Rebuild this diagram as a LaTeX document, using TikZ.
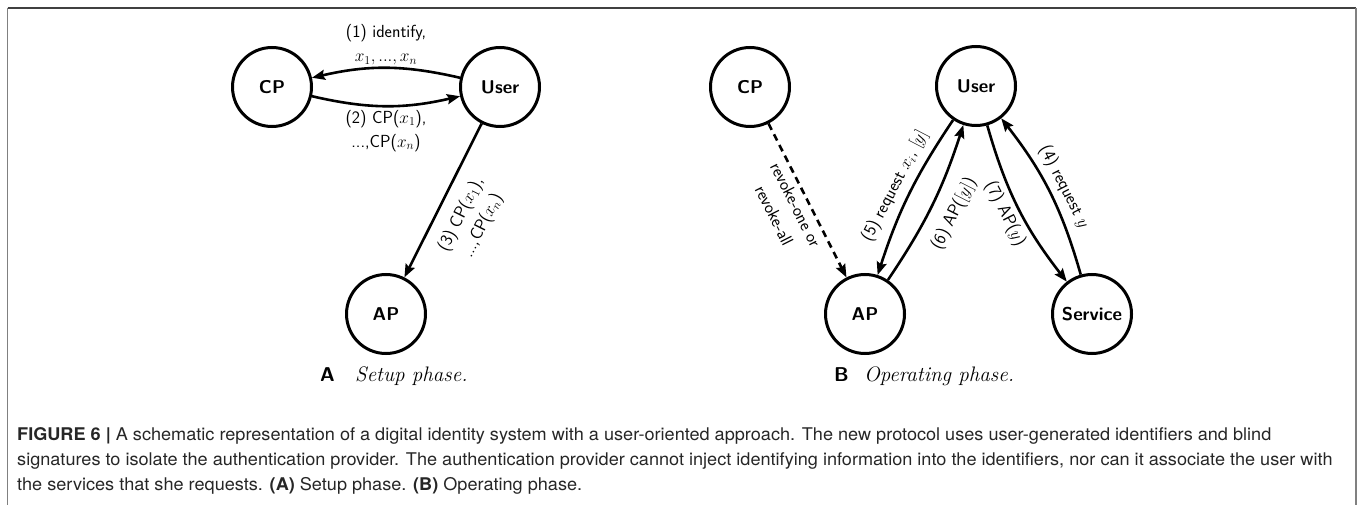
\documentclass[tikz,border=0pt]{standalone}
\usepackage{fontspec}
\usetikzlibrary{arrows.meta}
\newfontfamily\capfont[FakeStretch=1.035]{TeX Gyre Heros}

\begin{document}
\begin{tikzpicture}[x=1pt,y=1pt,
  party/.style={circle, draw, line width=3pt, minimum size=79pt, inner sep=0pt,
    font=\fontsize{18.5}{22}\selectfont\sffamily\bfseries},
  msg/.style={line width=2.6pt, -{Stealth[length=13pt,width=10pt,inset=2pt]}},
  revoke/.style={msg, dash pattern=on 7pt off 5pt},
  lbl/.style={font=\fontsize{17.5}{24}\selectfont\sffamily, align=center, inner sep=0pt},
  panel/.style={font=\fontsize{20}{24}\selectfont\sffamily\bfseries, inner sep=0pt, anchor=base west},
  phase/.style={font=\fontsize{21}{24}\selectfont\itshape, inner sep=0pt, anchor=base west},
  capline/.style={font=\fontsize{17.5}{25}\selectfont\capfont, text=black!85, inner sep=0pt, anchor=base west},
  frameline/.style={line width=1.5pt}]

\useasboundingbox (0,0) rectangle (1357,-505);

% figure frame
\draw[frameline, black!75] (7.5,-8) -- (1356,-8);
\draw[frameline, black!50] (7.5,-8) -- (7.5,-505);
\draw[frameline, black!50] (1356,-8) -- (1356,-505);

% ---- (A) setup phase ----
\node[party] (cpA)   at (272,-87)  {CP};
\node[party] (userA) at (500,-87)  {User};
\node[party] (apA)   at (386,-314) {AP};

\draw[msg] (userA) to[bend right=13] (cpA);
\draw[msg] (cpA) to[bend right=13] (userA);
\draw[msg] (userA) -- (apA);

\node[lbl] (m1) at (386,-45)  {(1) identify,\\ $x_1,...,x_n$};
\node[lbl] (m2) at (386,-131) {(2) CP($x_1$),\\ ...,CP($x_n$)};
\node[lbl, rotate=63.3] (m3) at (472,-220) {(3) CP($x_1$),\\ ...,CP($x_n$)};

\node[panel] (tagA) at (320,-381) {A};
\node[phase] (phA)  at (355,-381) {Setup phase.};

% ---- (B) operating phase ----
\node[party] (cpB)   at (750,-87)   {CP};
\node[party] (userB) at (976,-86)   {User};
\node[party] (apB)   at (865,-314)  {AP};
\node[party] (svc)   at (1092,-314) {Service};

\draw[revoke] (cpB) -- (apB);
\draw[msg] (userB) to[bend right=8] (apB);
\draw[msg] (apB) to[bend right=8] (userB);
\draw[msg] (userB) to[bend right=11] (svc);
\draw[msg] (svc) to[bend right=11] (userB);

\node[lbl, rotate=-63.3] (mr) at (785,-210)  {revoke-one or\\ revoke-all};
\node[lbl, rotate=62.5]  (m5) at (895,-186)  {(5) request $x_i$, $[y]$};
\node[lbl, rotate=63]    (m6) at (954,-214)  {(6) AP($[y]$)};
\node[lbl, rotate=-63]   (m7) at (1005,-214) {(7) AP($y$)};
\node[lbl, rotate=-63]   (m4) at (1064,-187) {(4) request $y$};

\node[panel] (tagB) at (834,-381) {B};
\node[phase] (phB)  at (864,-381) {Operating phase.};

% ---- caption ----
\node[capline] (cap1) at (17,-440) {\textbf{FIGURE 6 |} A schematic representation of a digital identity system with a user-oriented approach. The new protocol uses user-generated identifiers and blind};
\node[capline] (cap2) at (17,-465) {signatures to isolate the authentication provider. The authentication provider cannot inject identifying information into the identifiers, nor can it associate the user with};
\node[capline] (cap3) at (17,-490) {the services that she requests. \textbf{(A)} Setup phase. \textbf{(B)} Operating phase.};
\end{tikzpicture}
\end{document}
